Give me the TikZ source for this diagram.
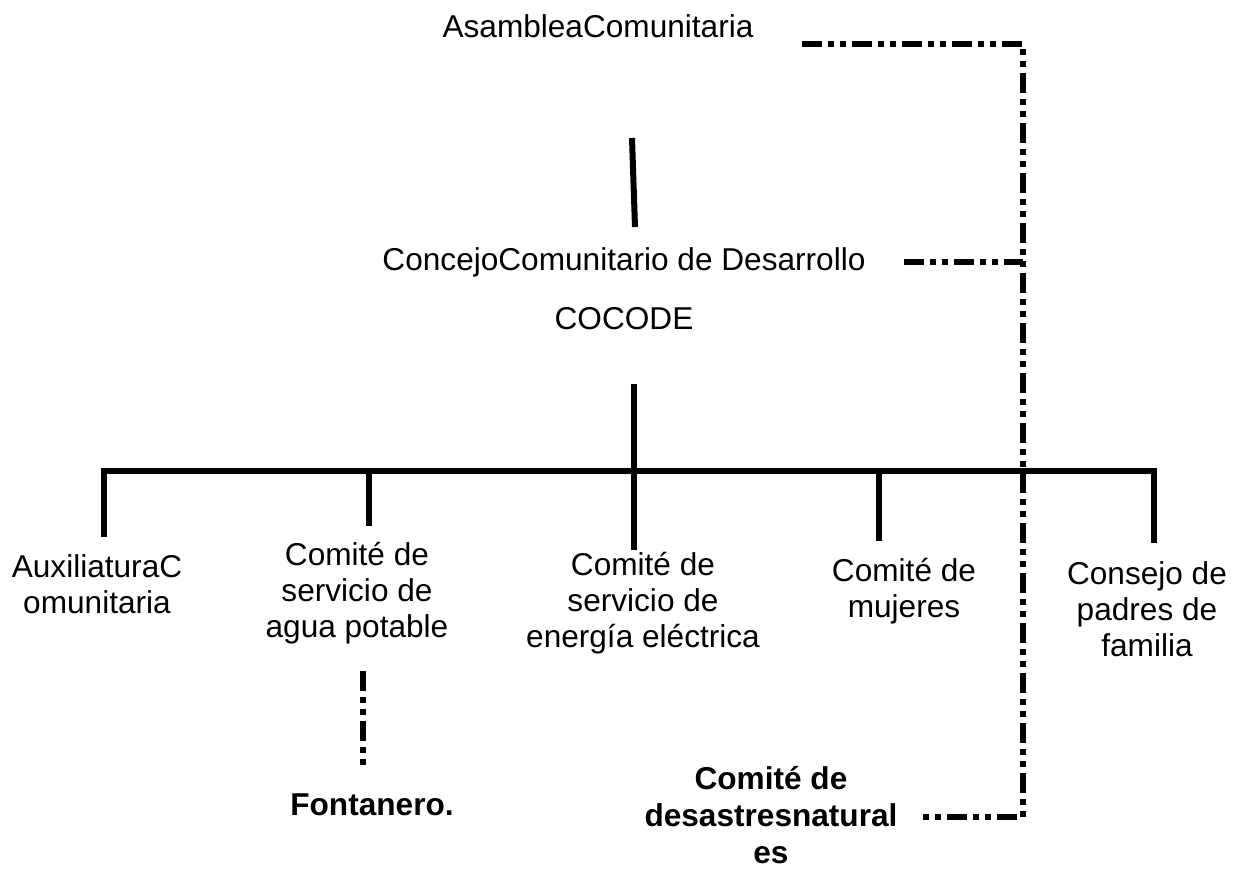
\documentclass[tikz,border=0pt]{standalone}
\usepackage{fontspec}
\setmainfont{Liberation Sans}
\usetikzlibrary{positioning}
\tikzset{
  org/.style={font=\fontsize{15.8}{18}\selectfont, align=center, inner sep=0pt, anchor=base},
  orgbold/.style={org, font=\fontsize{15.8}{18.5}\selectfont\bfseries},
  tree/.style={line width=3pt},
  dashdot/.style={line width=2.7pt, dash pattern=on 10pt off 3pt on 3pt off 3pt on 3pt off 3pt},
}
\begin{document}
\begin{tikzpicture}[x=0.5pt,y=-0.5pt]
\useasboundingbox (0,0) rectangle (1244,869);
% Drawing nodes (placed at the baseline of their last line)
\node[org] (asamblea) at (598,37) {AsambleaComunitaria};
\node[org] (concejo) at (624,270) {ConcejoComunitario de Desarrollo};
\node[org] (cocode) at (624,329) {COCODE};
\node[org] (auxiliatura) at (97,613) {AuxiliaturaC\\omunitaria};
\node[org] (agua) at (357,637) {Comité de\\servicio de\\agua potable};
\node[org] (energia) at (643,647) {Comité de\\servicio de\\energía eléctrica};
\node[org] (mujeres) at (904,617) {Comité de\\mujeres};
\node[org] (padres) at (1147,656) {Consejo de\\padres de\\familia};
\node[orgbold] (fontanero) at (372,815) {Fontanero.};
\node[orgbold] (desastres) at (771,863) {Comité de\\desastresnatural\\es};
% Done with nodes; drawing tree lines
\coordinate (topA) at (632,138);
\coordinate (topB) at (635,227);
\coordinate (stemtop) at (634,384);
\coordinate (barmid) at (634,471);
\coordinate (dAux) at (104,537);
\coordinate (dAgua) at (369,526);
\coordinate (dEnergia) at (634,550);
\coordinate (dMujeres) at (879,541);
\coordinate (dPadres) at (1154,543);
\draw[tree] (topA) -- (topB);
\draw[tree] (stemtop) -- (barmid);
\draw[tree] (dAux) -- (dAux |- barmid) -- (dPadres |- barmid) -- (dPadres);
\foreach \d in {dAgua,dEnergia,dMujeres}
  \draw[tree] (\d |- barmid) -- (\d);
% Done with tree lines; drawing dash-dot lines
\coordinate (rTop) at (802,44);
\coordinate (rMid) at (904,262);
\coordinate (rBot) at (920,817);
\coordinate (rail) at (1023,0);
\coordinate (fTop) at (363,671);
\coordinate (fBot) at (363,771);
\draw[dashdot] (rTop) -| (rail |- rBot) -- (rBot);
\draw[dashdot] (rMid) -- (rail |- rMid);
\draw[dashdot] (fTop) -- (fBot);
% Done with dash-dot lines
\end{tikzpicture}
\end{document}
